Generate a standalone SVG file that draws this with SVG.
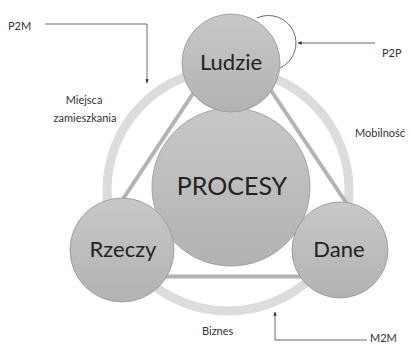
<svg xmlns="http://www.w3.org/2000/svg" width="410" height="345" viewBox="0 0 410 345">
<defs>
<linearGradient id="g" x1="0" y1="0" x2="0" y2="1">
<stop offset="0" stop-color="#c8c8c8"/>
<stop offset="1" stop-color="#b2b2b2"/>
</linearGradient>
<marker id="ah" viewBox="0 0 6 6" refX="5.5" refY="3" markerWidth="5" markerHeight="5" orient="auto">
<path d="M0,0.5 L6,3 L0,5.5 Z" fill="#333"/>
</marker>
</defs>
<style>
.node{fill:url(#g);stroke:#949494;stroke-width:0.8}
.big{font-family:Lato,"Liberation Sans",sans-serif;fill:#222;text-anchor:middle}
.lbl{font-family:Lato,"Liberation Sans",sans-serif;fill:#333;font-size:11px}
.tri{stroke:#b3b3b3;stroke-width:4;fill:none}
.con{stroke:#444;stroke-width:0.8;fill:none}
</style>
<rect width="410" height="345" fill="#fff"/>
<circle cx="228" cy="190" r="121" fill="none" stroke="#dcdcdc" stroke-width="9"/>
<g id="triangle">
<line class="tri" x1="200" y1="83" x2="119" y2="205"/>
<line class="tri" x1="264" y1="80" x2="351" y2="210"/>
<line class="tri" x1="150" y1="276.5" x2="320" y2="276.5"/>
</g>
<g id="connectors">
<polyline class="con" points="45,24 147,24 147,83" marker-end="url(#ah)"/>
<path class="con" d="M257,18 A25,25 0 0 1 280,68"/>
<line class="con" x1="375" y1="43" x2="298" y2="43" marker-end="url(#ah)"/>
<polyline class="con" points="367,340 275,340 275,312" marker-end="url(#ah)"/>
</g>
<g id="procesy">
<circle class="node" cx="231" cy="187" r="79"/>
<text class="big" x="232" y="195" font-size="25">PROCESY</text>
</g>
<g id="ludzie">
<circle class="node" cx="231" cy="63" r="49"/>
<text class="big" x="231" y="70" font-size="22">Ludzie</text>
</g>
<g id="rzeczy">
<circle class="node" cx="122" cy="250" r="52"/>
<text class="big" x="123" y="257" font-size="22">Rzeczy</text>
</g>
<g id="dane">
<circle class="node" cx="340" cy="250" r="48"/>
<text class="big" x="339" y="257" font-size="22">Dane</text>
</g>
<g id="labels">
<text class="lbl" x="8" y="30">P2M</text>
<text class="lbl" x="84" y="104" text-anchor="middle">Miejsca</text>
<text class="lbl" x="85" y="122" text-anchor="middle">zamieszkania</text>
<text class="lbl" x="382" y="57">P2P</text>
<text class="lbl" x="355" y="137">Mobilność</text>
<text class="lbl" x="202" y="335">Biznes</text>
<text class="lbl" x="370" y="342">M2M</text>
</g>
</svg>
